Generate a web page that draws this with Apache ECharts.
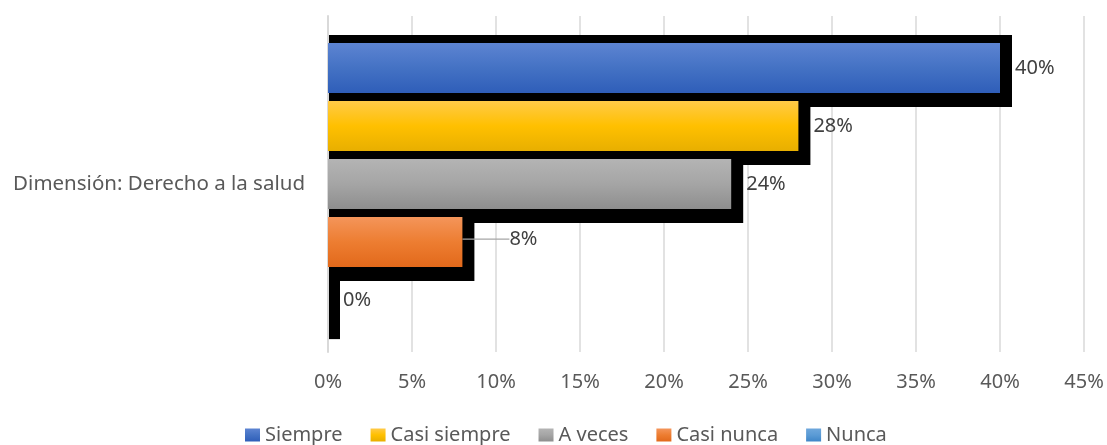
<!DOCTYPE html>
<html>
<head>
<meta charset="utf-8">
<script src="https://cdn.jsdelivr.net/npm/echarts@6/dist/echarts.min.js"></script>
<style>
  html, body { margin: 0; padding: 0; background: #fff; }
  #chart { width: 1107px; height: 445px; }
</style>
</head>
<body>
<div id="chart"></div>
<script>
// datos
const categorias = ['Dimensión: Derecho a la salud'];
const series = ['Siempre', 'Casi siempre', 'A veces', 'Casi nunca', 'Nunca'];
const valores = [40, 28, 24, 8, 0];
const ticks = [0, 5, 10, 15, 20, 25, 30, 35, 40, 45];

// colores degradados (arriba, medio, abajo)
const colores = [
  ['#5d84d2', '#4472c4', '#2f5eb9'],
  ['#ffca48', '#ffc000', '#e8af00'],
  ['#b4b4b4', '#a5a5a5', '#8e8e8e'],
  ['#f4955a', '#ed7d31', '#e2691b'],
  ['#6ea7dc', '#5b9bd5', '#3f86c8']
];

const font = '"Noto Sans", "Open Sans", sans-serif';
const myChart = echarts.init(document.getElementById('chart'));

const grad = (c) => new echarts.graphic.LinearGradient(0, 0, 0, 1, [
  { offset: 0, color: c[0] }, { offset: 0.5, color: c[1] }, { offset: 1, color: c[2] }
]);

const catGap = 0.16, barGap = 0.16;

// sombra negra detras de cada barra
const sombra = {
  type: 'custom',
  z: 1,
  silent: true,
  legendHoverLink: false,
  data: valores.map((v, i) => [v, 0, i]),
  encode: { x: 0, y: 1 },
  renderItem: (params, api) => {
    const i = api.value(2);
    const c = api.coord([api.value(0), 0]);
    const c0 = api.coord([0, 0]);
    const band = api.size([0, 1])[1];
    const usable = band * (1 - catGap);
    const bw = usable / (series.length + (series.length - 1) * barGap);
    const top = c[1] - usable / 2 + i * bw * (1 + barGap);
    return {
      type: 'rect',
      shape: { x: c0[0] + 1, y: top - 8, width: c[0] - c0[0] + 11, height: bw + 22 },
      style: { fill: '#000' }
    };
  }
};

const barras = series.map((name, i) => {
  const s = {
    name: name,
    type: 'bar',
    z: 2,
    barGap: (barGap * 100) + '%',
    barCategoryGap: (catGap * 100) + '%',
    itemStyle: { color: grad(colores[i]) },
    label: {
      show: true,
      position: 'right',
      distance: 15,
      formatter: (p) => p.value + '%',
      fontFamily: font,
      fontSize: 20,
      color: '#404040'
    },
    data: [valores[i]]
  };
  if (name === 'Casi nunca') {
    s.labelLayout = { dx: 32, dy: -3 };
    s.labelLine = { show: true, lineStyle: { color: '#a6a6a6', width: 1.3 } };
  }
  return s;
});

const option = {
  animation: false,
  backgroundColor: '#fff',
  grid: { left: 328, right: 23, top: 16, bottom: 93, containLabel: false },
  legend: {
    data: series,
    left: 240,
    top: 420,
    icon: 'rect',
    itemWidth: 15,
    itemHeight: 13,
    itemGap: 28,
    textStyle: { fontFamily: font, fontSize: 20, color: '#595959' }
  },
  xAxis: {
    type: 'value',
    min: ticks[0],
    max: ticks[ticks.length - 1],
    interval: 5,
    axisLine: { show: false },
    axisTick: { show: false },
    splitLine: { lineStyle: { color: '#d9d9d9', width: 1.5 } },
    axisLabel: { formatter: '{value}%', margin: 20, fontFamily: font, fontSize: 20, color: '#595959' }
  },
  yAxis: {
    type: 'category',
    inverse: true,
    data: categorias,
    axisLine: { lineStyle: { color: '#d9d9d9', width: 2 } },
    axisTick: { show: false },
    axisLabel: { margin: 23, fontFamily: font, fontSize: 20.5, color: '#595959' }
  },
  series: [sombra].concat(barras)
};

myChart.setOption(option);
</script>
</body>
</html>
